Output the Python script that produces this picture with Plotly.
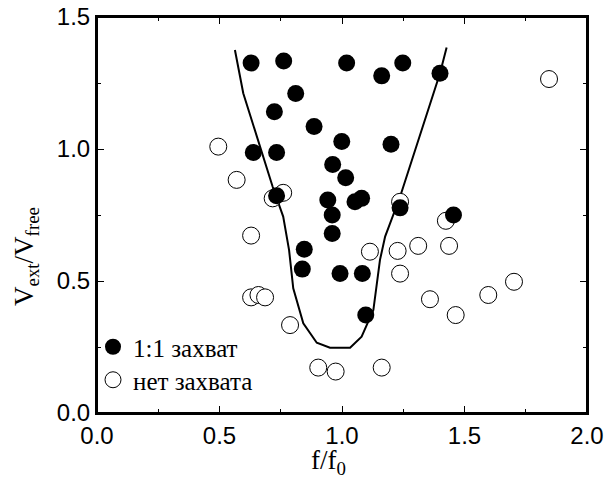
import plotly.graph_objects as go

# Locked (1:1 захват)
lock_x = [0.629, 0.762, 1.019, 1.162, 1.248, 1.400, 0.811, 0.724, 0.886, 0.638, 0.733,
          0.733, 0.999, 0.962, 1.015, 0.942, 0.960, 0.960, 0.846, 0.838, 0.992, 1.083,
          1.097, 1.200, 1.053, 1.080, 1.237, 1.455]
lock_y = [1.326, 1.333, 1.326, 1.277, 1.326, 1.287, 1.210, 1.141, 1.085, 0.987, 0.987,
          0.823, 1.028, 0.941, 0.891, 0.807, 0.750, 0.680, 0.620, 0.545, 0.528, 0.528,
          0.371, 1.018, 0.800, 0.813, 0.777, 0.750]

# Not locked (нет захвата)
free_x = [0.495, 0.570, 0.717, 0.760, 0.629, 0.629, 0.659, 0.686, 0.788, 0.903, 0.974,
          1.237, 1.845, 1.424, 1.114, 1.227, 1.311, 1.437, 1.237, 1.359, 1.464, 1.597,
          1.702, 1.162]
free_y = [1.009, 0.883, 0.813, 0.834, 0.672, 0.438, 0.447, 0.438, 0.333, 0.172, 0.157,
          0.800, 1.265, 0.728, 0.611, 0.614, 0.633, 0.633, 0.528, 0.431, 0.371, 0.447,
          0.497, 0.172]

# Boundary curve
curve_x = [0.563, 0.597, 0.717, 0.760, 0.784, 0.801, 0.842, 0.897, 0.951, 1.033, 1.080,
           1.128, 1.155, 1.176, 1.237, 1.400, 1.427]
curve_y = [1.375, 1.211, 0.857, 0.744, 0.617, 0.472, 0.340, 0.266, 0.247, 0.247, 0.289,
           0.390, 0.580, 0.668, 0.819, 1.287, 1.384]

x_ticks = [0.0, 0.5, 1.0, 1.5, 2.0]
y_ticks = [0.0, 0.5, 1.0, 1.5]

serif = "Liberation Serif"
sans = "Liberation Sans"

fig = go.Figure()
fig.add_trace(go.Scatter(x=curve_x, y=curve_y, mode="lines",
                         line=dict(color="black", width=2), showlegend=False,
                         hoverinfo="skip"))
fig.add_trace(go.Scatter(x=free_x, y=free_y, mode="markers", name="нет захвата",
                         legend="legend2",
                         marker=dict(size=17, color="white",
                                     line=dict(color="black", width=1))))
fig.add_trace(go.Scatter(x=lock_x, y=lock_y, mode="markers", name="1:1 захват",
                         legend="legend",
                         marker=dict(size=17, color="black",
                                     line=dict(color="black", width=0))))

axis_common = dict(
    automargin=False, ticklabeloverflow="allow",
    showline=True, linecolor="black", linewidth=2, mirror="allticks",
    ticks="inside", ticklen=7, tickwidth=1.3, tickcolor="black",
    showgrid=False, zeroline=False,
    tickfont=dict(family=sans, size=24, color="black"),
    minor=dict(ticks="inside", ticklen=4, tickwidth=1.3, tickcolor="black", dtick=0.25,
               showgrid=False),
)

fig.update_xaxes(range=[0, 2.0], tickvals=x_ticks,
                 ticktext=[f"{v:.1f}" for v in x_ticks], **axis_common)
fig.update_yaxes(range=[0, 1.5], tickvals=y_ticks,
                 ticktext=[f"{v:.1f}" for v in y_ticks], **axis_common)

# plot frame
fig.add_shape(type="rect", xref="paper", yref="paper", x0=0, x1=1, y0=0, y1=1,
              line=dict(color="black", width=2), layer="above")

fig.add_annotation(text="f/f<sub>0</sub>", xref="paper", yref="paper",
                   x=(328 - 97) / 490, y=-(462 - 413) / 396, xanchor="center",
                   yanchor="middle", showarrow=False,
                   font=dict(family=serif, size=27, color="black"))
fig.add_annotation(text="V<sub>ext</sub>/V<sub>free</sub>", xref="paper", yref="paper",
                   x=-(97 - 26) / 490, y=(413 - 257) / 396, xanchor="center",
                   yanchor="middle", textangle=-90, showarrow=False,
                   font=dict(family=serif, size=27, color="black"))

leg_common = dict(xanchor="left", yanchor="middle",
                  bgcolor="rgba(0,0,0,0)", borderwidth=0,
                  font=dict(family=serif, size=25, color="black"))

fig.update_layout(
    width=604, height=486,
    margin=dict(l=97, r=17, t=17, b=73, autoexpand=False),
    plot_bgcolor="white", paper_bgcolor="white",
    legend=dict(x=(93 - 97) / 490, y=(413 - 347) / 396, **leg_common),
    legend2=dict(x=(93 - 97) / 490, y=(413 - 380) / 396, **leg_common),
)

# remove the default 8px page margin so the figure fills the window exactly
fig.write_html("out.html", config={"displayModeBar": False},
               post_script="document.body.style.margin='0';document.body.style.overflow='hidden';")
